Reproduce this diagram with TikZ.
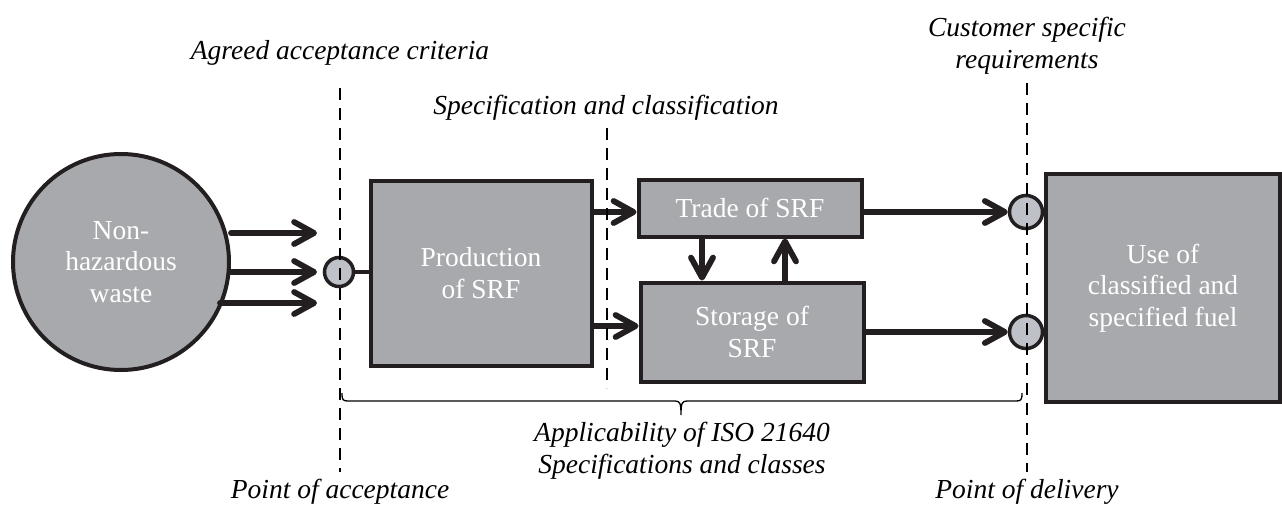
\documentclass[tikz,border=0pt]{standalone}
\usepackage{fontspec}
\setmainfont{Liberation Serif}
\usetikzlibrary{arrows.meta}
\definecolor{boxgray}{RGB}{167,169,172}
\definecolor{dotgray}{RGB}{190,193,200}
\definecolor{ink}{RGB}{35,31,32}
\begin{document}
\begin{tikzpicture}[x=1pt,y=-1pt,
  proc/.style={draw=ink, line width=4pt, fill=boxgray, text=white, align=center,
    font=\fontsize{27.5}{31.5}\selectfont, inner sep=0pt},
  conn/.style={draw=ink, fill=dotgray, circle, line width=3.5pt, minimum size=30pt, inner sep=0pt},
  flow/.style={draw=ink, line width=5.8pt, line cap=round,
    -{Straight Barb[length=20pt,width=22pt,round]}},
  link/.style={draw=ink, line width=4pt},
  lab/.style={font=\fontsize{27.5}{32}\selectfont\itshape, text=black, align=center, inner sep=0pt},
  sepline/.style={draw=black, line width=2.6pt, dash pattern=on 12pt off 8pt},
  bracestyle/.style={draw=black, line width=1.3pt}
]
\useasboundingbox (0,0) rectangle (1282,504);

% process nodes
\node[proc, circle, minimum size=216pt] (waste) at (121,262) {Non-\\hazardous\\waste};
\node[proc, minimum width=221pt, minimum height=185pt] (prod) at (481,273) {Production\\of SRF};
\node[proc, minimum width=223pt, minimum height=57pt] (trade) at (750,208) {Trade of SRF};
\node[proc, minimum width=223pt, minimum height=99pt] (stor) at (752,332) {Storage of\\SRF};
\node[proc, minimum width=234pt, minimum height=228pt] (use) at (1163,288) {Use of\\classified and\\specified fuel};

% connection points
\node[conn, minimum size=29pt] (c0) at (339,272) {};
\node[conn, minimum size=33pt] (c1) at (1026,212) {};
\node[conn, minimum size=33pt] (c2) at (1026,332) {};

% arrow ends
\coordinate (a1) at (317,233);
\coordinate (a2) at (317,272);
\coordinate (a3) at (317,303);

% flows from waste
\draw[flow] (waste.east |- a1) -- (a1);
\draw[flow] (waste.east |- a2) -- (a2);
\draw[flow] ([xshift=-11pt]waste.east |- a3) -- (a3);
\draw[link] (c0.east) -- (prod.west |- c0.east);

\draw[flow] (prod.east |- 0,212) -- (trade.west |- 0,212);
\draw[flow] (prod.east |- 0,326) -- (stor.west |- 0,326);
\draw[flow] (trade.south -| 702,0) -- (stor.north -| 702,0);
\draw[flow] (stor.north -| 785,0) -- (trade.south -| 785,0);
\draw[flow] (trade.east |- c1) -- (c1.west);
\draw[flow] (stor.east |- c2) -- (c2.west);

% dashed separators
\coordinate (d1t) at (340,88);  \coordinate (d1b) at (340,472);
\coordinate (d2t) at (607,128); \coordinate (d2b) at (607,388);
\coordinate (d3t) at (1027,83); \coordinate (d3b) at (1027,472);
\draw[sepline] (d1t) -- (d1b);
\draw[sepline] (d2t) -- (d2b);
\draw[sepline] (d3t) -- (d3b);

% brace
\coordinate (bl) at (342,393);
\coordinate (bt) at (681,415);
\coordinate (br) at (1022,393);
\draw[bracestyle] (bl) .. controls (342,400) and (343,401) .. (348,401) -- (675,401)
  .. controls (680,401) and (681,403) .. (bt)
  .. controls (681,403) and (682,401) .. (687,401) -- (1016,401)
  .. controls (1021,401) and (1022,400) .. (br);

% labels
\node[lab] (l1) at (340,53) {Agreed acceptance criteria};
\node[lab] (l2) at (606,108) {Specification and classification};
\node[lab] (l3) at (1027,46) {Customer specific\\requirements};
\node[lab] (l4) at (340,492) {Point of acceptance};
\node[lab] (l5) at (1027,492) {Point of delivery};
\node[lab] (l6) at (682,451) {Applicability of ISO 21640\\Specifications and classes};
\end{tikzpicture}
\end{document}
